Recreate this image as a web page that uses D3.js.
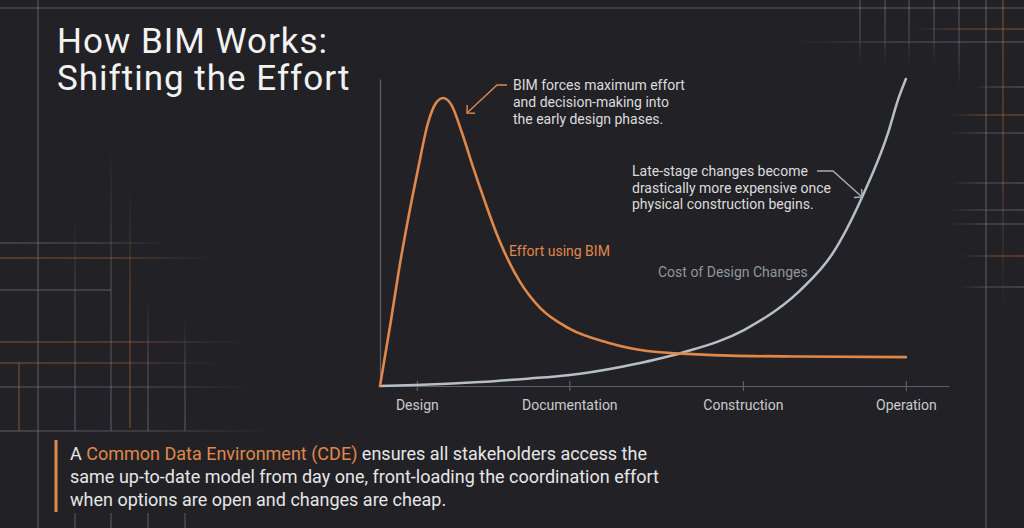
<!DOCTYPE html>
<html>
<head>
<meta charset="utf-8">
<script src="https://cdn.jsdelivr.net/npm/d3@7"></script>
<style>
  html, body { margin: 0; padding: 0; background: #222226; }
  svg { display: block; font-family: Roboto, "Noto Sans", sans-serif; }
</style>
</head>
<body>
<svg id="chart"></svg>
<script>
// Set svg size.
const width = 1024;
const height = 528;

// Project phases on the x axis (time runs 0..100, Operation = 100).
const phases = ["Design", "Documentation", "Construction", "Operation"];
const phaseAt = [7, 36, 69, 100];

// Effort using BIM.
const effortT = [0, 2.1, 3.6, 5.3, 7.2, 9.1, 10.5, 12, 13.6, 15.6, 17.7, 19.9, 22.2, 24.1, 26.6, 30.4, 36.1, 43.2, 50.8, 60.3, 66.5, 79.8, 100];
const effortV = [0, 21.5, 37.8, 54, 70.4, 85.5, 91.8, 93.8, 91.5, 82.4, 71.3, 60.3, 49.5, 42, 34, 25.5, 18.6, 14.2, 11.4, 10.3, 9.9, 9.6, 9.4];

// Cost of design changes.
const costT = [0, 6.8, 19, 28, 35.7, 46, 57.6, 69.2, 79.8, 86, 91.8, 96.6, 98.5, 100];
const costV = [0, 0.3, 1.3, 2.4, 3.5, 6.3, 10.9, 18.2, 31, 43, 62, 82.4, 93.2, 100];

// Background blueprint lines: [x1, y1, x2, y2, colour, fade]
const gridLines = [
  [0, 8, 1024, 8, "gray", "none"],
  [38, 0, 38, 528, "gray", "none"],
  [986, 0, 986, 528, "gray", "none"],
  // left cluster
  [75, 212, 75, 431, "gray", "up"],
  [111, 145, 111, 431, "gray", "up"],
  [130, 188, 130, 428, "orange", "up"],
  [148, 296, 148, 431, "gray", "up"],
  [185, 317, 185, 431, "gray", "up"],
  [19, 363, 19, 431, "orange", "none"],
  [75, 513, 75, 528, "gray", "none"],
  [111, 513, 111, 528, "gray", "none"],
  [148, 513, 148, 528, "gray", "none"],
  [185, 513, 185, 528, "gray", "none"],
  [0, 243, 172, 243, "gray", "right"],
  [0, 258, 215, 258, "orange", "right"],
  [0, 290, 111, 290, "gray", "none"],
  [0, 342, 248, 342, "orange", "right"],
  [0, 363, 220, 363, "orange", "right"],
  [0, 387, 253, 387, "gray", "right"],
  [0, 431, 273, 431, "gray", "right"],
  // right cluster
  [860, 0, 860, 64, "gray", "down"],
  [885, 0, 885, 64, "gray", "down"],
  [909, 0, 909, 64, "gray", "down"],
  [934, 0, 934, 64, "gray", "down"],
  [959, 0, 959, 87, "gray", "down"],
  [1003, 0, 1003, 310, "orange", "down"],
  [913, 29, 1024, 29, "orange", "left"],
  [790, 42, 1024, 42, "gray", "left"],
  [973, 87, 1024, 87, "gray", "left"],
  [948, 115, 1024, 115, "orange", "left"],
  [948, 133, 1024, 133, "gray", "left"],
  [948, 183, 1024, 183, "gray", "left"],
  [948, 210, 1024, 210, "gray", "left"],
  [948, 224, 1024, 224, "gray", "left"],
  [960, 256, 1024, 256, "orange", "left"],
  [960, 287, 1024, 287, "gray", "left"]
];

const orange = "#e0874a";
const costGray = "#b6bec6";
const axisGray = "#5d6066";

const svg = d3.select("#chart")
  .attr("width", width)
  .attr("height", height);

svg.append("rect")
  .attr("width", width)
  .attr("height", height)
  .attr("fill", "#222226");

const defs = svg.append("defs");

function translate(x, y) {
  return "translate(" + String(x) + "," + String(y) + ")";
}

// Scales: time 0..108 spans the axis line, 0..100 the curves.
const xScale = d3.scaleLinear().domain([0, 108.2]).range([380, 949]);
const yScale = d3.scaleLinear().domain([0, 100]).range([386, 79]);

drawGrid();
drawTitle();
drawAxis();
drawCurves();
drawAnnotations();
drawFooter();

/*
 * faint blueprint lines behind everything
 */
function drawGrid() {
  const colours = { gray: "#75787f", orange: "#b06a3a" };
  const dirs = {
    right: [0, 0, 1, 0], left: [1, 0, 0, 0],
    up: [0, 1, 0, 0], down: [0, 0, 0, 1]
  };
  let g = svg.append("g").attr("id", "grid");
  gridLines.forEach((l, i) => {
    let fill = colours[l[4]];
    if (l[5] !== "none") {
      let d = dirs[l[5]];
      let grad = defs.append("linearGradient")
        .attr("id", "fade" + i)
        .attr("x1", d[0]).attr("y1", d[1])
        .attr("x2", d[2]).attr("y2", d[3]);
      grad.append("stop").attr("offset", "0%").attr("stop-color", fill).attr("stop-opacity", 1);
      grad.append("stop").attr("offset", "55%").attr("stop-color", fill).attr("stop-opacity", 0.8);
      grad.append("stop").attr("offset", "100%").attr("stop-color", fill).attr("stop-opacity", 0);
      fill = "url(#fade" + i + ")";
    }
    g.append("rect")
      .attr("x", l[0] === l[2] ? l[0] - 0.5 : l[0])
      .attr("y", l[1] === l[3] ? l[1] - 0.5 : l[1])
      .attr("width", l[0] === l[2] ? 1 : l[2] - l[0])
      .attr("height", l[1] === l[3] ? 1 : l[3] - l[1])
      .attr("fill", fill)
      .attr("opacity", 0.7);
  });
}

function drawTitle() {
  let title = svg.append("text")
    .attr("fill", "#f2f2f2")
    .style("font-size", "35px")
    .style("font-weight", 400)
    .style("letter-spacing", "1px");
  title.append("tspan").attr("x", 57).attr("y", 53).text("How BIM Works:");
  title.append("tspan").attr("x", 57).attr("y", 90).text("Shifting the Effort");
}

function drawAxis() {
  let xAxis = d3.axisBottom(xScale)
    .tickValues(phaseAt)
    .tickFormat((d, i) => phases[i])
    .tickSizeOuter(0);

  let xg = svg.append("g")
    .attr("id", "x-axis")
    .attr("transform", translate(0, yScale(0)))
    .call(xAxis);

  xg.select(".domain").attr("stroke", axisGray).attr("stroke-width", 1.2);
  xg.selectAll(".tick line")
    .attr("stroke", axisGray)
    .attr("stroke-width", 1.2)
    .attr("y1", -5)
    .attr("y2", 5);
  xg.selectAll(".tick text")
    .attr("fill", "#c9cbcf")
    .attr("y", 14)
    .style("font-size", "14px")
    .style("font-family", "Roboto, sans-serif");

  let yAxis = d3.axisLeft(yScale).tickValues([]).tickSizeOuter(0);
  let yg = svg.append("g")
    .attr("id", "y-axis")
    .attr("transform", translate(xScale(0), 0))
    .call(yAxis);
  yg.select(".domain").attr("stroke", axisGray).attr("stroke-width", 1.2);
}

function drawCurves() {
  let line = d3.line()
    .x(d => xScale(d[0]))
    .y(d => yScale(d[1]))
    .curve(d3.curveMonotoneX);

  let cost = costT.map((t, i) => [t, costV[i]]);
  let effort = effortT.map((t, i) => [t, effortV[i]]);

  svg.append("path")
    .attr("id", "cost")
    .attr("d", line(cost))
    .attr("fill", "none")
    .attr("stroke", costGray)
    .attr("stroke-width", 2.5)
    .attr("stroke-linecap", "round");

  svg.append("path")
    .attr("id", "effort")
    .attr("d", line(effort))
    .attr("fill", "none")
    .attr("stroke", orange)
    .attr("stroke-width", 2.6)
    .attr("stroke-linecap", "round")
    .attr("stroke-linejoin", "round");

  // series labels
  svg.append("text")
    .attr("x", 509).attr("y", 256)
    .attr("fill", orange)
    .style("font-size", "14px")
    .text("Effort using BIM");

  svg.append("text")
    .attr("x", 658).attr("y", 277)
    .attr("fill", "#8f979e")
    .style("font-size", "14px")
    .text("Cost of Design Changes");
}

/*
 * polyline with an open chevron at its last point
 */
function drawArrow(points, colour) {
  let g = svg.append("g").attr("class", "arrow");
  g.append("path")
    .attr("d", d3.line()(points))
    .attr("fill", "none")
    .attr("stroke", colour)
    .attr("stroke-width", 1.4);

  let [x1, y1] = points[points.length - 2];
  let [x2, y2] = points[points.length - 1];
  let a = Math.atan2(y1 - y2, x1 - x2);
  let len = 8;
  let head = [
    [x2 + len * Math.cos(a + Math.PI / 4), y2 + len * Math.sin(a + Math.PI / 4)],
    [x2, y2],
    [x2 + len * Math.cos(a - Math.PI / 4), y2 + len * Math.sin(a - Math.PI / 4)]
  ];
  g.append("path")
    .attr("d", d3.line()(head))
    .attr("fill", "none")
    .attr("stroke", colour)
    .attr("stroke-width", 1.4);
}

function drawAnnotations() {
  let noteA = svg.append("text")
    .attr("fill", "#dcdcdc")
    .style("font-size", "14px");
  ["BIM forces maximum effort", "and decision-making into", "the early design phases."]
    .forEach((s, i) => noteA.append("tspan").attr("x", 513).attr("y", 90 + i * 17).text(s));
  drawArrow([[507, 85], [497, 85], [467, 113]], orange);

  let noteB = svg.append("text")
    .attr("fill", "#dcdcdc")
    .style("font-size", "14px");
  ["Late-stage changes become", "drastically more expensive once", "physical construction begins."]
    .forEach((s, i) => noteB.append("tspan").attr("x", 632).attr("y", 176 + i * 16.5).text(s));
  drawArrow([[817, 171], [833, 171], [862, 197]], "#a9afb5");
}

function drawFooter() {
  svg.append("rect")
    .attr("x", 54.5).attr("y", 440)
    .attr("width", 3).attr("height", 72)
    .attr("fill", orange);

  let foot = svg.append("text")
    .attr("fill", "#e6e6e6")
    .style("font-size", "18px");
  let l1 = foot.append("tspan").attr("x", 70).attr("y", 460);
  l1.append("tspan").text("A ");
  l1.append("tspan").attr("fill", orange).text("Common Data Environment (CDE)");
  l1.append("tspan").text(" ensures all stakeholders access the");
  foot.append("tspan").attr("x", 70).attr("y", 483)
    .text("same up-to-date model from day one, front-loading the coordination effort");
  foot.append("tspan").attr("x", 70).attr("y", 506)
    .text("when options are open and changes are cheap.");
}
</script>
</body>
</html>
